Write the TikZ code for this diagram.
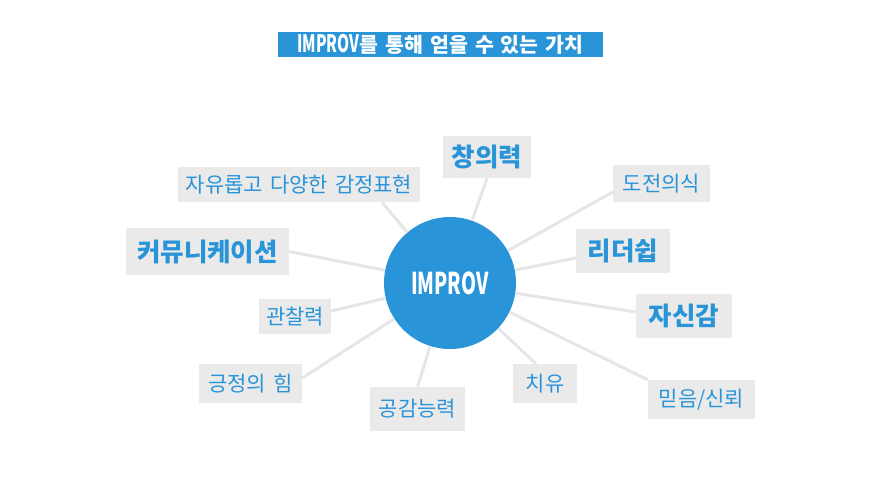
\documentclass[tikz,border=0pt]{standalone}
\usepackage{fontspec}
\usepackage{graphicx}
\setmainfont[WordSpace=1.5]{Noto Sans CJK KR}
\usepackage{tikz}
\usetikzlibrary{positioning}
\usepackage{xcolor}
\definecolor{improvblue}{HTML}{2A94D9}
\definecolor{boxgray}{HTML}{EAEAEA}
\definecolor{linegray}{HTML}{E6E6E6}
\newcommand{\condensed}[1]{\scalebox{0.64}[1]{#1}}

\begin{document}
\begin{tikzpicture}[x=1pt, y=-1pt,
  val/.style={fill=boxgray, text=improvblue, inner sep=0pt, align=center, font=\fontsize{21}{24}\selectfont},
  bigval/.style={val, font=\fontsize{25.5}{28}\selectfont\bfseries},
  hub/.style={circle, fill=improvblue, text=white, minimum size=132pt, inner sep=0pt, font=\fontsize{30}{32}\selectfont\bfseries},
  banner/.style={fill=improvblue, text=white, inner sep=0pt, minimum width=325pt, minimum height=25pt, font=\fontsize{20.5}{22}\selectfont\bfseries},
  link/.style={draw=linegray, line width=3pt}
]
\useasboundingbox (0,0) rectangle (880,500);

\node[banner] (title) at (440.5,44.5) {{\fontsize{24}{24}\selectfont\condensed{IMPROV}}를 통해 얻을 수 있는 가치};

\node[val, minimum width=242pt, minimum height=35pt] (emo) at (299,184.5) {자유롭고 다양한 감정표현};
\node[bigval, minimum width=163pt, minimum height=47pt] (comm) at (207.5,251.5) {커뮤니케이션};
\node[bigval, minimum width=88pt, minimum height=42pt] (crea) at (487,157) {창의력};
\node[val, minimum width=97pt, minimum height=37pt] (chal) at (661.5,183.5) {도전의식};
\node[bigval, minimum width=94pt, minimum height=44pt] (lead) at (623,251) {리더쉽};
\node[bigval, minimum width=96pt, minimum height=44pt] (conf) at (684,316) {자신감};
\node[val, minimum width=72pt, minimum height=35pt] (obs) at (295,316.5) {관찰력};
\node[val, minimum width=103pt, minimum height=39pt] (pos) at (250.5,383.5) {긍정의 힘};
\node[val, minimum width=95pt, minimum height=44pt] (emp) at (417.5,409) {공감능력};
\node[val, minimum width=64pt, minimum height=39pt] (heal) at (545,383.5) {치유};
\node[val, minimum width=107pt, minimum height=39pt] (trust) at (701.5,399.5) {믿음/신뢰};

\node[hub] (improv) at (450,283) {\condensed{IMPROV}};

\draw[link] (improv) -- ([xshift=83pt]emo.south);
\draw[link] (improv) -- (comm.east);
\draw[link] (improv) -- (crea.south);
\draw[link] (improv) -- ([yshift=-8.5pt]chal.west);
\draw[link] (improv) -- ([yshift=-7pt]lead.west);
\draw[link] (improv) -- ([yshift=4pt]conf.west);
\draw[link] (improv) -- ([yshift=5.5pt]obs.east);
\draw[link] (improv) -- ([yshift=5.5pt]pos.east);
\draw[link] (improv) -- (emp.north);
\draw[link] (improv) -- ([xshift=-9pt]heal.north);
\draw[link] (improv) -- (trust.north west);
\end{tikzpicture}
\end{document}
